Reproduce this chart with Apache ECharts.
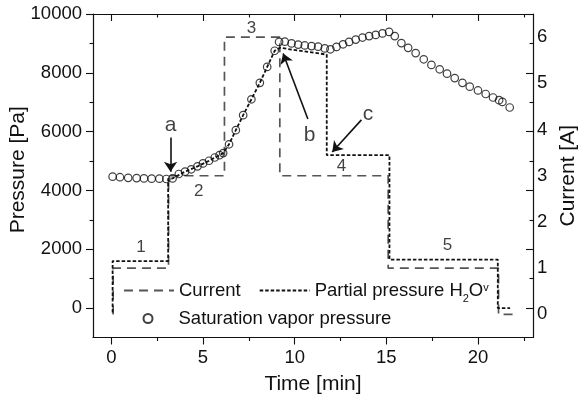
<!DOCTYPE html>
<html><head><meta charset="utf-8">
<script src="https://cdn.jsdelivr.net/npm/echarts@6/dist/echarts.min.js"></script>
<style>html,body{margin:0;padding:0;background:#fff}#c{width:582px;height:401px}</style>
</head><body><div id="c"></div>
<script>
// ---- data ----
const satTime = [0.07,0.47,0.92,1.38,1.78,2.2,2.62,3.0,3.34,3.68,4.02,4.36,4.7,5.0,5.33,5.64,5.9,6.1,6.42,6.79,7.19,7.64,8.1,8.5,8.91,9.15,9.46,9.83,10.19,10.55,10.92,11.28,11.64,11.95,12.28,12.64,12.97,13.33,13.7,14.06,14.42,14.79,15.15,15.46,15.82,16.19,16.6,17.04,17.46,17.91,18.31,18.73,19.15,19.55,20.0,20.42,20.82,21.15,21.33,21.73];
const satPressure = [4470,4450,4430,4420,4410,4400,4400,4390,4410,4560,4640,4720,4820,4920,5010,5120,5200,5270,5570,6050,6560,7100,7660,8200,8750,9050,9060,9000,8960,8930,8910,8890,8830,8800,8880,8970,9050,9130,9200,9250,9290,9340,9390,9250,9010,8850,8670,8460,8270,8120,7970,7820,7660,7530,7400,7280,7160,7070,7010,6820];
const currentTime = [0.1,0.1,3.12,3.12,6.17,6.17,9.19,9.19,15.1,15.1,21.12,21.12,21.95];
const currentValue = [0,1,1,3,3,6,6,3,3,1,1,0,0];
const ppTime = [0.07,0.07,3.1,3.1,3.34,4.02,4.7,5.33,5.9,6.1,6.42,6.79,7.19,7.64,8.1,8.5,8.91,9.2,11.75,11.75,15.17,15.17,21.08,21.08,21.75];
const ppPressure = [-150,1600,1600,4400,4410,4640,4820,5010,5200,5270,5570,6050,6560,7100,7660,8200,8750,8850,8620,5200,5200,1650,1650,0,0];
const xMajorTicks = [0,5,10,15,20];
const xMinorTicks = [2.5,7.5,12.5,17.5,22.5];
const pMajorTicks = [0,2000,4000,6000,8000,10000];
const pMinorTicks = [1000,3000,5000,7000,9000];
const currentTicks = [0,1,2,3,4,5,6];
const annotText = ['1','2','3','4','5','a','b','c'];
const annotTime = [1.62,4.77,7.64,12.55,18.33,3.23,10.82,14.0];
const annotPressure = [2080,3960,9520,4830,2120,6230,5890,6600];
const arrowFromTime = [3.23,10.72,13.64];
const arrowFromPressure = [5800,6430,6400];
const arrowToTime = [3.23,9.37,12.05];
const arrowToPressure = [4640,8660,5310];

const FONT = 'Liberation Sans, Arial, Helvetica, sans-serif';
const BLACK = '#111';
const xr = {min:-1, max:23};
const pr = {min:-1000, max:10000};
const cr = {min:-0.5, max:6.5};
const plain = v => String(v);

function zip(a,b){return a.map((v,i)=>[v,b[i]]);}

function tickAxis(pos, range, ticks, len, inside, showLine){
  return {type:'value', position:pos, min:range.min, max:range.max,
    axisLine:{show:showLine, onZero:false, lineStyle:{color:BLACK,width:1.2}},
    axisTick:{show:true, inside:inside, length:len, customValues:ticks, lineStyle:{color:BLACK,width:1.1}},
    axisLabel:{show:false}, splitLine:{show:false}, minorTick:{show:false}};
}

const chart = echarts.init(document.getElementById('c'), null, {renderer:'canvas'});
const option = {
  animation:false,
  backgroundColor:'#fff',
  grid:{left:93, right:49, top:14, bottom:63.5, outerBoundsMode:'none', containLabel:false},
  xAxis:[
    {type:'value', position:'bottom', min:xr.min, max:xr.max,
     name:'Time [min]', nameLocation:'middle', nameGap:36, nameMoveOverlap:false,
     nameTextStyle:{fontFamily:FONT, fontSize:21, color:BLACK},
     axisLine:{show:true, onZero:false, lineStyle:{color:BLACK,width:1.2}},
     axisTick:{show:true, inside:false, length:7, customValues:xMajorTicks, lineStyle:{color:BLACK,width:1.1}},
     axisLabel:{show:true, customValues:xMajorTicks, formatter:plain, margin:11, fontFamily:FONT, fontSize:18.5, color:BLACK},
     splitLine:{show:false}},
    tickAxis('bottom', xr, xMinorTicks, 3.5, false, false),
    tickAxis('top', xr, xMajorTicks, 7, true, true),
    tickAxis('top', xr, xMinorTicks, 3.5, true, false)
  ],
  yAxis:[
    {type:'value', position:'left', min:pr.min, max:pr.max,
     name:'Pressure [Pa]', nameLocation:'middle', nameGap:64, nameRotate:90, nameMoveOverlap:false,
     nameTextStyle:{fontFamily:FONT, fontSize:21, color:BLACK, padding:[0,0,0,12]},
     axisLine:{show:true, onZero:false, lineStyle:{color:BLACK,width:1.2}},
     axisTick:{show:true, inside:false, length:7, customValues:pMajorTicks, lineStyle:{color:BLACK,width:1.1}},
     axisLabel:{show:true, customValues:pMajorTicks, formatter:plain, margin:11, fontFamily:FONT, fontSize:18.5, color:BLACK},
     splitLine:{show:false}},
    {type:'value', position:'right', min:cr.min, max:cr.max,
     name:'Current [A]', nameLocation:'middle', nameGap:25, nameRotate:90, nameMoveOverlap:false,
     nameTextStyle:{fontFamily:FONT, fontSize:21, color:BLACK},
     axisLine:{show:true, onZero:false, lineStyle:{color:BLACK,width:1.2}},
     axisTick:{show:false},
     axisLabel:{show:true, customValues:currentTicks, formatter:plain, margin:4, fontFamily:FONT, fontSize:18.5, color:BLACK},
     splitLine:{show:false}},
    tickAxis('left', pr, pMinorTicks, 3.5, false, false),
    tickAxis('right', pr, pMajorTicks, 7, true, false),
    tickAxis('right', pr, pMinorTicks, 3.5, true, false)
  ],
  legend:[
    {data:['Current','Partial pressure H2Ov'], left:123, top:277, padding:0, orient:'horizontal',
     itemWidth:50, itemHeight:14, itemGap:18, selectedMode:false,
     itemStyle:{opacity:0},
     formatter:function(n){return n==='Partial pressure H2Ov' ? 'Partial pressure H{sub|2}O{sup|v}' : n;},
     textStyle:{fontFamily:FONT, fontSize:18.5, color:BLACK,
       rich:{sub:{fontFamily:FONT, fontSize:11, color:BLACK, lineHeight:11, padding:[16,0,0,0]},
             sup:{fontFamily:FONT, fontSize:11, color:BLACK, lineHeight:11, padding:[0,0,6,0]}}}},
    {data:['Saturation vapor pressure'], left:142.5, top:309, padding:0,
     itemWidth:51, itemHeight:9, selectedMode:false,
     textStyle:{fontFamily:FONT, fontSize:18.5, color:BLACK}}
  ],
  series:[
    {name:'Current', type:'line', xAxisIndex:0, yAxisIndex:1, data:zip(currentTime,currentValue),
     symbol:'none', lineStyle:{color:'#555', width:1.7, type:[9,6]}, itemStyle:{color:'#555'}, z:3},
    {name:'Partial pressure H2Ov', type:'line', xAxisIndex:0, yAxisIndex:0, data:zip(ppTime,ppPressure),
     symbol:'none', lineStyle:{color:BLACK, width:1.8, type:[3.5,2]}, itemStyle:{color:BLACK}, z:3},
    {name:'Saturation vapor pressure', type:'scatter', xAxisIndex:0, yAxisIndex:0, data:zip(satTime,satPressure),
     symbol:'circle', symbolSize:7.5,
     itemStyle:{color:'rgba(255,255,255,0)', borderColor:BLACK, borderWidth:1.2}, z:4},
    {name:'annot', type:'scatter', xAxisIndex:0, yAxisIndex:0, symbolSize:0, silent:true, z:5,
     data:annotText.map((t,i)=>({value:[annotTime[i],annotPressure[i]],
       label:{show:true, position:'inside', formatter:t, fontFamily:FONT, color:BLACK,
              fontSize:/[0-9]/.test(t)?17:21}})),
     markLine:{silent:true, symbol:['none','arrow'], symbolSize:10, precision:4,
       lineStyle:{color:BLACK, width:1.6, type:'solid'}, label:{show:false},
       data:arrowFromTime.map((t,i)=>[{coord:[t,arrowFromPressure[i]]},{coord:[arrowToTime[i],arrowToPressure[i]]}])}}
  ]
};
chart.setOption(option);
</script></body></html>
